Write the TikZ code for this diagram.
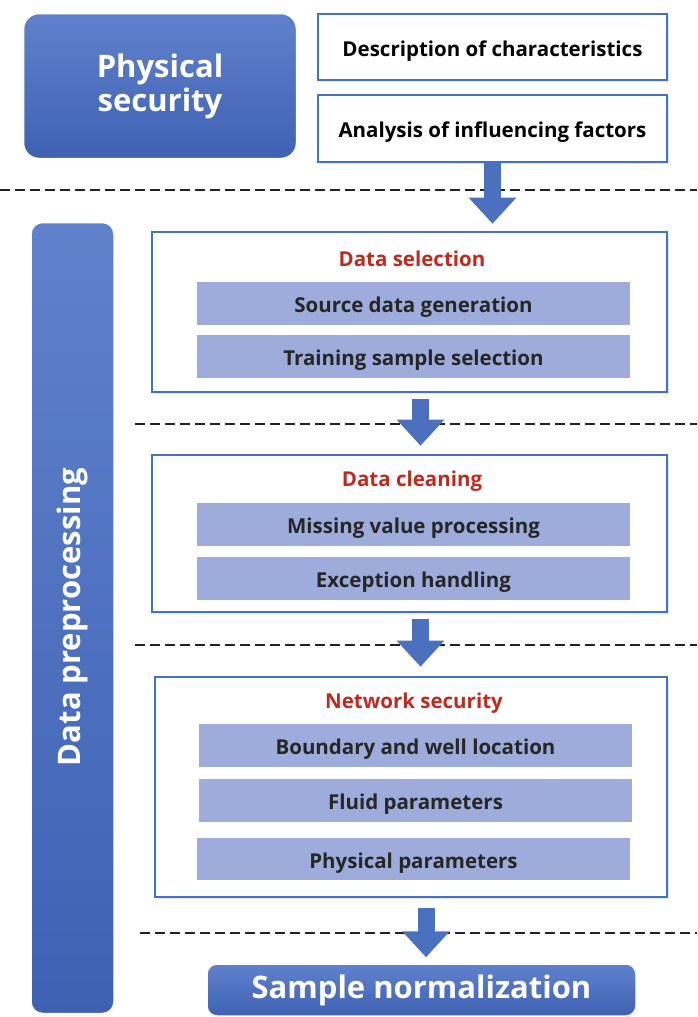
\documentclass[tikz,border=0pt]{standalone}
\usepackage{fontspec}
\setmainfont{Open Sans}
\usetikzlibrary{arrows.meta,shadows}

\definecolor{boxblue}{RGB}{68,114,196}
\definecolor{fillblue}{RGB}{75,112,190}
\definecolor{toplight}{RGB}{96,130,205}
\definecolor{botdark}{RGB}{62,97,178}
\definecolor{barblue}{RGB}{158,172,219}
\definecolor{titlered}{RGB}{192,42,30}
\definecolor{dashgray}{RGB}{35,35,35}

\tikzset{every picture/.style={line width=0.75pt}}
\tikzset{
  bigblock/.style={rounded corners=16pt, draw=white, line width=2.5pt, top color=toplight, bottom color=botdark,
    text=white, font=\bfseries\fontsize{31}{33}\selectfont, align=center, drop shadow={opacity=0.25,shadow xshift=1pt,shadow yshift=-1pt}},
  whitebox/.style={draw=boxblue, line width=2.6pt, fill=white, font=\bfseries\fontsize{20.5}{23}\selectfont,
    text height=20.6pt, text depth=2pt,
    drop shadow={opacity=0.2,shadow xshift=1.5pt,shadow yshift=-1.5pt}},
  framebox/.style={draw=boxblue, line width=2.6pt, fill=white,
    drop shadow={opacity=0.2,shadow xshift=1.5pt,shadow yshift=-1.5pt}},
  bartext/.style={fill=barblue, minimum width=433pt, minimum height=43pt, inner sep=0pt,
    text height=20pt, text depth=2pt,
    text=black!85, font=\bfseries\fontsize{20.5}{23}\selectfont},
  redtitle/.style={text=titlered, font=\bfseries\fontsize{20.5}{23}\selectfont},
  dashline/.style={dashgray, line width=2.8pt, dash pattern=on 10pt off 5pt},
  blockarrow/.style={fillblue, line width=17pt, -{Triangle[width=46pt,length=26pt]}}
}

\begin{document}
\begin{tikzpicture}[x=1pt,y=1pt,yscale=-1,xscale=1]
\useasboundingbox (0,0) rectangle (697,1017);

%dashed separators
\draw [dashline] (0,190) -- (697,190);
\draw [dashline] (135,424) -- (697,424);
\draw [dashline] (135,645) -- (697,645);
\draw [dashline] (140,933) -- (697,933);

%Physical security part
\node [bigblock, minimum width=274pt, minimum height=146pt] (physec) at (160,86) {Physical\\[1pt]security};
\node [whitebox, minimum width=349pt, minimum height=66pt] (desc) at (492.5,47) {Description of characteristics};
\node [whitebox, minimum width=349pt, minimum height=67pt] (anal) at (492.5,128.5) {Analysis of influencing factors};

%Data preprocessing bar
\node [bigblock, rounded corners=12pt, minimum width=84pt, minimum height=792pt] (prep) at (72.5,618) {};
\node [text=white, font=\bfseries\fontsize{31}{33}\selectfont, rotate=90] (preptext) at (72,617) {Data preprocessing};

%Data selection
\node [framebox, minimum width=515pt, minimum height=160pt] (selbox) at (409.5,312) {};
\node [redtitle] (seltitle) at (412,259) {Data selection};
\node [bartext] (src) at (413.5,303.5) {Source data generation};
\node [bartext] (train) at (413.5,356.5) {Training sample selection};

%Data cleaning
\node [framebox, minimum width=515pt, minimum height=157pt] (cleanbox) at (409.5,533.5) {};
\node [redtitle] (cleantitle) at (412,481) {Data cleaning};
\node [bartext] (miss) at (413.5,524.5) {Missing value processing};
\node [bartext] (exc) at (413.5,578.5) {Exception handling};

%Network security
\node [framebox, minimum width=512pt, minimum height=220pt] (netbox) at (411,787) {};
\node [redtitle] (nettitle) at (414,703) {Network security};
\node [bartext] (bound) at (415.5,745.5) {Boundary and well location};
\node [bartext] (fluid) at (415.5,800.5) {Fluid parameters};
\node [bartext, minimum height=42pt] (physpar) at (413.5,859) {Physical parameters};

%Sample normalization
\node [bigblock, rounded corners=10pt, minimum width=429pt, minimum height=52pt, line width=1.5pt] (norm) at (421.5,990) {Sample normalization};

%block arrows
\draw [blockarrow, shorten >=7pt] (anal.south) -- (anal.south |- selbox.north);
\draw [blockarrow, shorten <=6pt, shorten >=8pt] ([xshift=11pt]selbox.south) -- ([xshift=11pt]cleanbox.north);
\draw [blockarrow, shorten <=6pt, shorten >=9pt] ([xshift=11pt]cleanbox.south) -- ([xshift=11pt]cleanbox.south |- netbox.north);
\draw [blockarrow, shorten <=10pt, shorten >=6pt] ([xshift=4.5pt]norm.north |- netbox.south) -- ([xshift=4.5pt]norm.north);

\end{tikzpicture}
\end{document}
